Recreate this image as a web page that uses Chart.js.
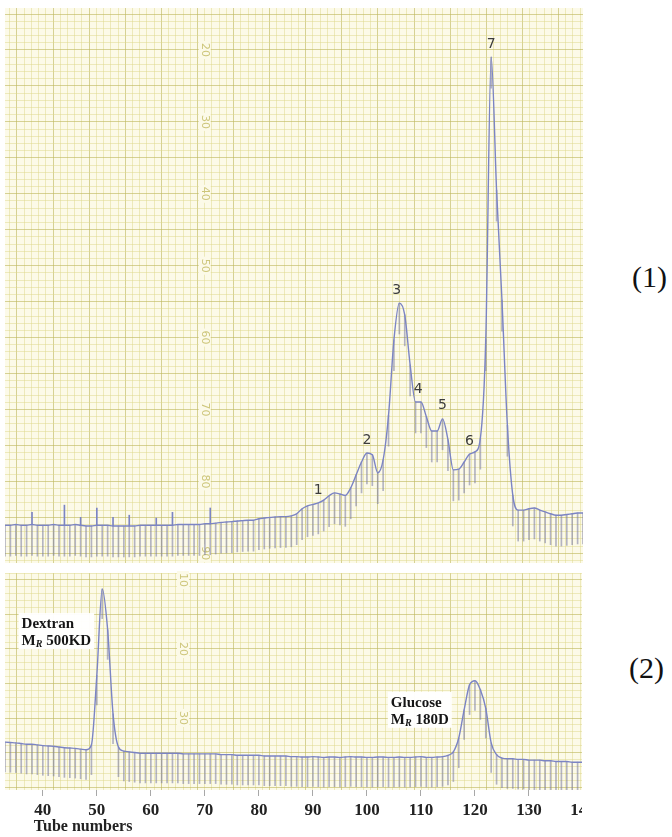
<!DOCTYPE html>
<html>
<head>
<meta charset="utf-8">
<script src="https://cdn.jsdelivr.net/npm/chart.js@4.4.1/dist/chart.umd.min.js"></script>
<style>
  html, body { margin: 0; padding: 0; background: #fff; width: 672px; height: 837px; overflow: hidden; }
  #topPanel { position: absolute; left: 0; top: 0; width: 600px; height: 566px; }
  #bottomClip { position: absolute; left: 0; top: 566px; width: 582px; height: 271px; overflow: hidden; }
  #bottomPanel { position: absolute; left: 0; top: 0; width: 600px; height: 271px; }
  .panel-tag { position: absolute; font-family: "Liberation Serif", serif; font-size: 30px; line-height: 1; color: #111; }
</style>
</head>
<body>
<div id="topPanel"><canvas id="fractionChart"></canvas></div>
<div id="bottomClip"><div id="bottomPanel"><canvas id="standardsChart"></canvas></div></div>
<div class="panel-tag" style="left:632px; top:262px;">(1)</div>
<div class="panel-tag" style="left:629px; top:653px;">(2)</div>

<script>
// ---- Data -------------------------------------------------------------
// Tube (fraction) numbers, one reading per tube.
const firstTube = 33;
const lastTube = 140;
const tubes = [];
for (let t = firstTube; t <= lastTube; t++) tubes.push(t);

// Recorder reading (chart-paper scale, larger = lower on the paper) for the sample run.
const fractionTrace = [
  86.1, 86.1, 86.0, 86.1, 86.1, 86.0, 86.1, 86.1, 86.1, 86.0,   // 33-42
  86.1, 86.1, 86.1, 86.0, 86.1, 86.2, 86.2, 86.1, 86.1, 86.1,   // 43-52
  86.2, 86.2, 86.2, 86.2, 86.2, 86.1, 86.1, 86.1, 86.1, 86.1,   // 53-62
  86.1, 86.1, 86.0, 86.0, 86.0, 86.0, 86.0, 85.9, 85.9, 85.8,   // 63-72
  85.7, 85.65, 85.6, 85.5, 85.45, 85.4, 85.4, 85.2, 85.1, 85.0, // 73-82
  84.95, 84.9, 84.9, 84.8, 84.5, 83.8, 83.4, 83.2, 83.0, 82.6,  // 83-92
  82.0, 81.6, 81.75, 81.95, 80.9, 79.1, 77.3, 76.05, 76.3, 78.8,// 93-102
  77.0, 70.8, 60.3, 55.2, 56.85, 63.8, 68.96, 68.96, 71.0, 73.0,// 103-112
  73.0, 71.3, 74.2, 78.4, 78.3, 77.3, 76.2, 75.9, 74.0, 60.3,   // 113-122
  21.0, 39.5, 54.8, 72.2, 81.9, 84.0, 84.0, 83.8, 83.7, 84.0,   // 123-132
  84.25, 84.5, 84.7, 84.7, 84.6, 84.5, 84.4, 84.4               // 133-140
];

// Recorder reading for the calibration run (Dextran 500 KD and glucose).
const standardsTrace = [
  33.5, 33.55, 33.6, 33.7, 33.8, 33.8, 33.9, 34.0, 34.05, 34.1, // 33-42
  34.2, 34.3, 34.35, 34.4, 34.5, 34.6, 33.9, 23.8, 11.3, 17.2,  // 43-52
  29.4, 34.2, 34.8, 34.9, 35.0, 35.1, 35.1, 35.1, 35.1, 35.1,   // 53-62
  35.1, 35.1, 35.1, 35.2, 35.2, 35.2, 35.2, 35.2, 35.2, 35.2,   // 63-72
  35.3, 35.3, 35.3, 35.4, 35.4, 35.4, 35.4, 35.4, 35.5, 35.5,   // 73-82
  35.5, 35.5, 35.5, 35.6, 35.6, 35.65, 35.65, 35.6, 35.65, 35.7,// 83-92
  35.65, 35.65, 35.7, 35.65, 35.6, 35.65, 35.65, 35.7, 35.7, 35.65, // 93-102
  35.65, 35.7, 35.7, 35.65, 35.7, 35.7, 35.65, 35.6, 35.7, 35.7,// 103-112
  35.65, 35.6, 35.4, 34.9, 32.9, 28.8, 25.2, 24.6, 25.9, 28.6,  // 113-122
  33.6, 35.3, 35.8, 35.9, 35.9, 36.0, 36.0, 36.1, 36.1, 36.1,   // 123-132
  36.2, 36.2, 36.3, 36.3, 36.3, 36.4, 36.4, 36.4                // 133-140
];

// Numbered peaks of the sample run (tube at which each number is written).
const peakNames = ['1', '2', '3', '4', '5', '6', '7'];
const peakTubes = [91, 100, 105.5, 109.5, 114, 119, 123];

// Event pips written above the baseline by the recorder.
const eventTubes = [38, 44, 47, 50, 53, 56, 61, 64, 71];
const eventTops = [84.3, 83.3, 85.0, 83.7, 85.0, 84.7, 85.1, 84.3, 83.7];

// Printed chart-paper scale numbers.
const paperLabelsTop = [20, 30, 40, 50, 60, 70, 80, 90];
const paperLabelsBottom = [10, 20, 30];

// Tube-number axis ticks.
const tubeTicks = [40, 50, 60, 70, 80, 90, 100, 110, 120, 130, 140];

// ---- Styles -------------------------------------------------------------
const PAPER_BG = '#fcfae8';
const GRID_MINOR = 'rgba(222,216,140,0.5)';
const GRID_MAJOR = 'rgba(190,184,96,0.62)';
const PAPER_INK = 'rgba(200,192,110,0.9)';
const PEN = '#7b84c4';
const PEN_MARK = 'rgba(118,120,160,0.55)';
const PEN_DROP = 4.3;   // length of the tube-change marks below the pen, paper units

const valueAt = (trace, t) => trace[tubes.indexOf(Math.round(t))];

function unitTicks(scale) {
  const list = [];
  for (let v = Math.ceil(scale.min); v <= Math.floor(scale.max); v++) list.push({ value: v });
  scale.ticks = list;
}
const gridColor = c => (c.tick && Math.round(c.tick.value) % 5 === 0) ? GRID_MAJOR : GRID_MINOR;

// Chart paper: background, printed scale numbers
const paperPlugin = {
  id: 'paper',
  beforeDraw(chart) {
    const { ctx, chartArea: a } = chart;
    ctx.save();
    ctx.fillStyle = PAPER_BG;
    ctx.fillRect(a.left, a.top, a.width, a.height);
    ctx.restore();
  },
  beforeDatasetsDraw(chart, args, opts) {
    const { ctx } = chart;
    const px = chart.scales.gx.getPixelForValue(opts.column);
    ctx.save();
    ctx.font = '11px "DejaVu Sans", sans-serif';
    ctx.textAlign = 'center';
    ctx.textBaseline = 'middle';
    for (const v of opts.labels) {
      const py = chart.scales.y.getPixelForValue(v);
      const w = ctx.measureText(String(v)).width;
      ctx.save();
      ctx.translate(px, py);
      ctx.rotate(Math.PI / 2);
      ctx.fillStyle = PAPER_BG;
      ctx.fillRect(-w / 2 - 2, -6, w + 4, 12);
      ctx.fillStyle = PAPER_INK;
      ctx.fillText(String(v), 0, 0);
      ctx.restore();
    }
    ctx.restore();
  }
};

function traceDatasets(trace, withEvents) {
  const sets = [
    {
      type: 'line',
      data: tubes.map((t, i) => ({ x: t, y: trace[i] })),
      borderColor: PEN,
      borderWidth: 1.4,
      pointRadius: 0,
      cubicInterpolationMode: 'monotone',
      fill: false,
      order: 0
    },
    {
      type: 'bar',
      data: tubes.map((t, i) => ({ x: t, y: [trace[i], trace[i] + PEN_DROP] })),
      backgroundColor: PEN_MARK,
      barThickness: 1,
      grouped: false,
      order: 2
    }
  ];
  if (withEvents) {
    sets.push({
      type: 'bar',
      data: eventTubes.map((t, i) => ({ x: t, y: [valueAt(trace, t), eventTops[i]] })),
      backgroundColor: PEN,
      barThickness: 1,
      grouped: false,
      order: 1
    });
  }
  return sets;
}

function baseScales(yMin, yMax, showTubeAxis) {
  return {
    x: {
      type: 'linear', min: 33, max: 140, offset: false,
      display: showTubeAxis,
      afterBuildTicks: s => { s.ticks = tubeTicks.map(v => ({ value: v })); },
      afterFit: s => { if (showTubeAxis) s.height = 40; },
      grid: { offset: false, drawOnChartArea: false, drawTicks: true, tickLength: 6, tickColor: '#a8a8a8', tickWidth: 1 },
      border: { display: false },
      ticks: {
        autoSkip: false, maxRotation: 0, padding: 4, color: '#222',
        font: { family: '"Liberation Serif", serif', size: 17, weight: 'bold' }
      }
    },
    gx: {
      type: 'linear', position: 'top', min: -1.66, max: 78.4, offset: false,
      afterBuildTicks: unitTicks,
      afterFit: s => { s.height = 0; },
      grid: { color: gridColor, lineWidth: 1, drawTicks: false, offset: false },
      border: { display: false },
      ticks: { display: false }
    },
    y: {
      type: 'linear', reverse: true, min: yMin, max: yMax,
      afterBuildTicks: unitTicks,
      afterFit: s => { s.width = 0; },
      grid: { color: gridColor, lineWidth: 1, drawTicks: false },
      border: { display: false },
      ticks: { display: false }
    }
  };
}

// Peak numbers written by hand above the sample trace
const peakLabelPlugin = {
  id: 'peakLabels',
  afterDatasetsDraw(chart) {
    const { ctx } = chart;
    ctx.save();
    ctx.font = '14px "DejaVu Sans", sans-serif';
    ctx.fillStyle = '#3c3c3c';
    ctx.textAlign = 'center';
    ctx.textBaseline = 'middle';
    peakNames.forEach((name, i) => {
      const x = chart.scales.x.getPixelForValue(peakTubes[i]);
      const y = chart.scales.y.getPixelForValue(valueAt(fractionTrace, peakTubes[i]));
      ctx.fillText(name, x, y - 13);
    });
    ctx.restore();
  }
};

// Name boxes for the two calibration standards and the axis caption
const standardsPlugin = {
  id: 'standards',
  afterDatasetsDraw(chart) {
    const { ctx } = chart;
    const xs = chart.scales.x, ys = chart.scales.y;
    const serif = '"Liberation Serif", serif';
    const boxes = [
      { right: 49.5, top: 14.8, name: 'Dextran', mass: ' 500KD' },
      { right: 115.7, top: 26.2, name: 'Glucose', mass: ' 180D' }
    ];
    ctx.save();
    for (const b of boxes) {
      ctx.font = 'bold 15px ' + serif;
      const w1 = ctx.measureText(b.name).width;
      const wM = ctx.measureText('M').width;
      ctx.font = 'bold italic 10px ' + serif;
      const wR = ctx.measureText('R').width;
      ctx.font = 'bold 15px ' + serif;
      const wMass = ctx.measureText(b.mass).width;
      const w = Math.max(w1, wM + wR + wMass) + 6;
      const right = xs.getPixelForValue(b.right);
      const top = ys.getPixelForValue(b.top);
      const left = right - w;
      ctx.fillStyle = 'rgba(255,255,255,0.96)';
      ctx.fillRect(left, top, w, 36);
      ctx.fillStyle = '#151515';
      ctx.textBaseline = 'alphabetic';
      ctx.textAlign = 'left';
      ctx.fillText(b.name, left + 3, top + 15);
      ctx.fillText('M', left + 3, top + 32);
      ctx.font = 'bold italic 10px ' + serif;
      ctx.fillText('R', left + 3 + wM, top + 34);
      ctx.font = 'bold 15px ' + serif;
      ctx.fillText(b.mass, left + 3 + wM + wR, top + 32);
    }
    ctx.restore();
  },
  afterDraw(chart) {
    const { ctx } = chart;
    ctx.save();
    ctx.font = 'bold 16px "Liberation Serif", serif';
    ctx.fillStyle = '#222';
    ctx.textAlign = 'left';
    ctx.textBaseline = 'middle';
    ctx.fillText('Tube numbers', chart.scales.x.getPixelForValue(40) - 9, 261);
    ctx.restore();
  }
};

const common = {
  responsive: true,
  maintainAspectRatio: false,
  animation: false,
  events: [],
  plugins: { legend: { display: false }, tooltip: { enabled: false } }
};

new Chart(document.getElementById('fractionChart'), {
  type: 'bar',
  data: { datasets: traceDatasets(fractionTrace, true) },
  options: Object.assign({}, common, {
    layout: { padding: { left: 5, right: 17, top: 8, bottom: 3 } },
    scales: baseScales(14.16, 91.35, false),
    plugins: Object.assign({}, common.plugins, { paper: { labels: paperLabelsTop, column: 26 } })
  }),
  plugins: [paperPlugin, peakLabelPlugin]
});

new Chart(document.getElementById('standardsChart'), {
  type: 'bar',
  data: { datasets: traceDatasets(standardsTrace, false) },
  options: Object.assign({}, common, {
    layout: { padding: { left: 5, right: 17, top: 7, bottom: 7 } },
    scales: baseScales(8.99, 40.43, true),
    plugins: Object.assign({}, common.plugins, { paper: { labels: paperLabelsBottom, column: 23 } })
  }),
  plugins: [paperPlugin, standardsPlugin]
});
</script>
</body>
</html>
